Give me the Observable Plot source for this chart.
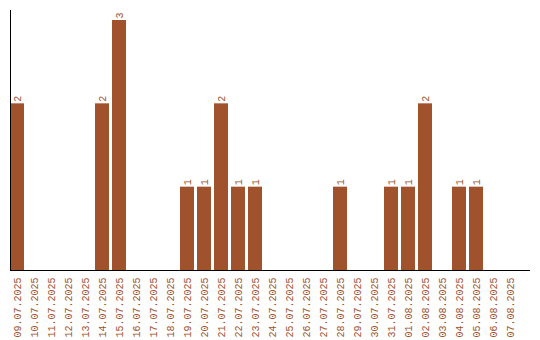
<!DOCTYPE html>
<html>
<head>
<meta charset="utf-8">
<script src="https://cdn.jsdelivr.net/npm/d3@7"></script>
<script src="https://cdn.jsdelivr.net/npm/@observablehq/plot@0.6"></script>
<style>
  html, body { margin: 0; padding: 0; background: #fff; }
</style>
</head>
<body>
<div id="chart"></div>
<script>
const dates = [
  "09.07.2025","10.07.2025","11.07.2025","12.07.2025","13.07.2025","14.07.2025",
  "15.07.2025","16.07.2025","17.07.2025","18.07.2025","19.07.2025","20.07.2025",
  "21.07.2025","22.07.2025","23.07.2025","24.07.2025","25.07.2025","26.07.2025",
  "27.07.2025","28.07.2025","29.07.2025","30.07.2025","31.07.2025","01.08.2025",
  "02.08.2025","03.08.2025","04.08.2025","05.08.2025","06.08.2025","07.08.2025"
];
const counts = [
  2,0,0,0,0,2,
  3,0,0,0,1,1,
  2,1,1,0,0,0,
  0,1,0,0,1,1,
  2,0,1,1,0,0
];

const data = dates.map((d, i) => ({date: d, count: counts[i]}));
const color = "#a0522d";

const chart = Plot.plot({
  width: 540,
  height: 340,
  marginLeft: 10,
  marginRight: 10,
  marginTop: 10,
  marginBottom: 70,
  style: {fontFamily: "'Liberation Mono', monospace", fontSize: "10px", background: "#fff"},
  x: {domain: dates, range: [10, 517], paddingInner: 0.1765, paddingOuter: 0, align: 0},
  y: {domain: [0, 3.12], axis: null},
  marks: [
    Plot.barY(data, {x: "date", y: "count", fill: color}),
    Plot.text(data.filter(d => d.count > 0), {
      x: "date", y: "count", text: d => String(d.count),
      rotate: -90, textAnchor: "start", dy: -2, fill: color
    }),
    Plot.axisX({tickSize: 0, tickRotate: -90, tickPadding: 7, fill: color, label: null}),
    Plot.ruleY([0], {stroke: "#000", strokeWidth: 1}),
    Plot.frame({anchor: "left", stroke: "#000", strokeWidth: 1})
  ]
});
document.getElementById("chart").appendChild(chart);
</script>
</body>
</html>
